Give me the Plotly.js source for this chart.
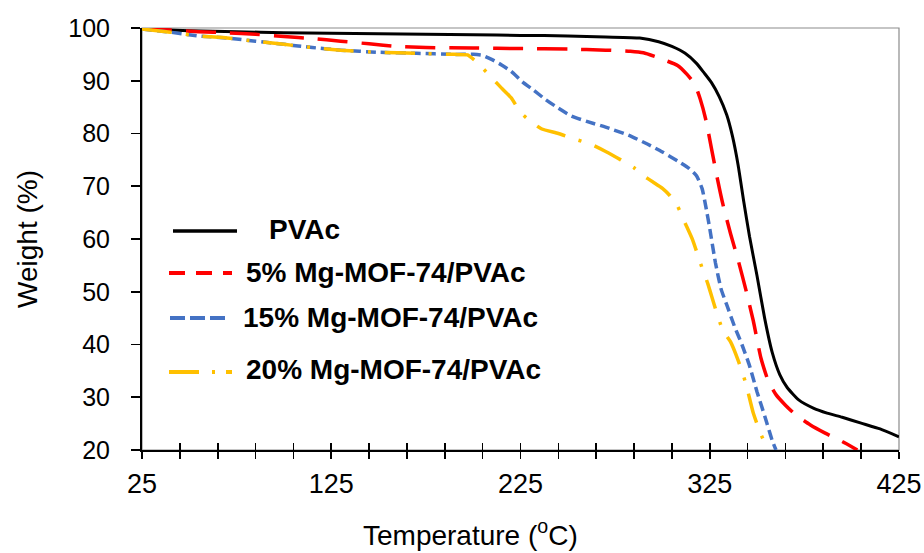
<!DOCTYPE html>
<html>
<head>
<meta charset="utf-8">
<script src="https://cdn.plot.ly/plotly-3.0.1.min.js"></script>
<style>html,body{margin:0;padding:0;background:#fff;}#chart{width:924px;height:553px;}</style>
</head>
<body>
<div id="chart"></div>
<script>
// ---- data ----
var seriesNames = ["PVAc", "5% Mg-MOF-74/PVAc", "15% Mg-MOF-74/PVAc", "20% Mg-MOF-74/PVAc"];

var tempPVAc = [25, 50, 75, 100, 125, 150, 175, 200, 225, 250, 270, 288, 298, 305, 312, 318, 322, 326, 330, 334, 337, 340, 343, 346, 350, 354, 358, 362, 366, 372, 380, 387, 395, 405, 415, 425];
var wtPVAc   = [99.8, 99.5, 99.3, 99.1, 99.0, 98.9, 98.8, 98.7, 98.6, 98.5, 98.3, 98.1, 97.4, 96.5, 95.2, 93.3, 91.5, 89.6, 87.0, 83.5, 79.5, 74.0, 67.0, 60.5, 53.0, 45.0, 38.5, 34.3, 31.8, 29.5, 27.9, 27.0, 26.2, 25.1, 24.0, 22.5];

var temp5 = [25, 40, 55, 70, 85, 100, 115, 130, 145, 160, 175, 200, 225, 250, 270, 283, 290, 296, 302, 308, 313, 317, 320, 323, 326, 329, 332, 336, 340, 344, 348, 352, 356, 360, 365, 370, 378, 386, 395, 403];
var wt5   = [99.9, 99.6, 99.3, 99.1, 98.8, 98.4, 98.0, 97.5, 97.0, 96.5, 96.3, 96.2, 96.1, 96.0, 95.8, 95.6, 95.3, 94.6, 93.8, 92.9, 91.2, 89.4, 86.5, 82.5, 77.0, 71.5, 66.5, 61.0, 56.0, 50.5, 44.5, 37.5, 33.0, 30.5, 28.5, 26.8, 24.8, 23.2, 21.6, 20.0];

var temp15 = [25, 40, 55, 70, 85, 100, 115, 130, 150, 170, 190, 200, 205, 210, 215, 220, 226, 232, 238, 245, 252, 260, 270, 282, 292, 300, 308, 314, 318, 321, 323, 325, 328, 331, 334, 338, 342, 346, 350, 354, 358, 360];
var wt15   = [99.8, 99.2, 98.5, 98.1, 97.5, 96.9, 96.3, 95.8, 95.4, 95.2, 95.0, 95.0, 94.8, 94.0, 93.0, 91.8, 89.8, 88.2, 86.5, 84.8, 83.3, 82.3, 81.2, 79.7, 78.0, 76.5, 74.8, 73.4, 72.0, 69.5, 66.0, 62.0, 55.5, 50.5, 47.5, 43.5, 40.0, 36.0, 31.0, 26.5, 21.8, 20.0];

var temp20 = [25, 40, 55, 70, 85, 100, 115, 130, 150, 170, 190, 197, 201, 205, 210, 215, 220, 225, 230, 236, 245, 253, 262, 270, 278, 285, 290, 295, 300, 304, 308, 312, 316, 320, 324, 328, 332, 336, 340, 344, 348, 352, 356];
var wt20   = [99.8, 99.2, 98.5, 98.1, 97.5, 96.9, 96.3, 95.8, 95.4, 95.2, 95.0, 94.9, 93.8, 92.4, 90.5, 88.6, 86.8, 84.0, 82.4, 80.9, 80.0, 79.0, 78.0, 76.6, 75.0, 73.5, 72.0, 70.8, 69.6, 68.2, 66.2, 63.0, 59.8, 55.5, 51.5, 46.8, 42.6, 40.5, 37.0, 32.7, 27.0, 23.0, 20.0];

var xTickVals = [25, 125, 225, 325, 425];
var yTickVals = [20, 30, 40, 50, 60, 70, 80, 90, 100];

// ---- styles ----
var FONT = "Liberation Sans, Arial, Helvetica, sans-serif";
var styles = [
  {color: "#000000", width: 3,   dash: "solid",                 legDash: "solid"},
  {color: "#FF0000", width: 3.5, dash: "30px,14px",             legDash: "16px,11px"},
  {color: "#4472C4", width: 3.5, dash: "10px,5px",              legDash: "15px,5px"},
  {color: "#FFC000", width: 3.5, dash: "30px,14px,3px,14px",    legDash: "30px,13px,3px,11px"}
];
var xs = [tempPVAc, temp5, temp15, temp20];
var ys = [wtPVAc, wt5, wt15, wt20];

var traces = xs.map(function (x, i) {
  return {
    x: x, y: ys[i], name: seriesNames[i], type: "scatter", mode: "lines",
    line: {color: styles[i].color, width: styles[i].width, dash: styles[i].dash, shape: "spline", smoothing: 0.5},
    showlegend: false, hoverinfo: "x+y+name"
  };
});

// ---- plot geometry ----
var W = 924, H = 553, ML = 142, MR = 25, MT = 28, MB = 103;
var PW = W - ML - MR, PH = H - MT - MB;
function px2paperX(px) { return (px - ML) / PW; }
function py2paperY(py) { return (H - MB - py) / PH; }

// custom legend (line sample + bold label) as drawn in the reference
var legendRows = [
  {lineX0: 173, lineX1: 237, lineY: 231, textX: 267, textY: 229},
  {lineX0: 169, lineX1: 232, lineY: 273, textX: 244, textY: 272},
  {lineX0: 170, lineX1: 230, lineY: 318, textX: 241, textY: 317},
  {lineX0: 169, lineX1: 232, lineY: 372, textX: 244, textY: 369}
];

var shapes = [{
  type: "rect", xref: "paper", yref: "paper", x0: 0, x1: 1, y0: 0, y1: 1,
  line: {color: "#8c8c8c", width: 1.2}, layer: "below"
}];
var annotations = [];
legendRows.forEach(function (r, i) {
  shapes.push({
    type: "line", xref: "paper", yref: "paper",
    x0: px2paperX(r.lineX0), x1: px2paperX(r.lineX1),
    y0: py2paperY(r.lineY), y1: py2paperY(r.lineY),
    line: {color: styles[i].color, width: i === 0 ? 3.5 : 4, dash: styles[i].legDash}
  });
  annotations.push({
    xref: "paper", yref: "paper", x: px2paperX(r.textX), y: py2paperY(r.textY),
    xanchor: "left", yanchor: "middle", showarrow: false,
    text: "<b>" + seriesNames[i] + "</b>",
    font: {family: FONT, size: 28, color: "#000"}
  });
});
// x-axis title (sits left of the plot centre in the reference)
annotations.push({
  xref: "paper", yref: "paper", x: px2paperX(470), y: py2paperY(533),
  xanchor: "center", yanchor: "middle", showarrow: false,
  text: "Temperature (<sup>o</sup>C)",
  font: {family: FONT, size: 28, color: "#000"}
});

var layout = {
  width: W, height: H,
  margin: {l: ML, r: MR, t: MT, b: MB, pad: 0},
  paper_bgcolor: "#fff", plot_bgcolor: "#fff",
  font: {family: FONT, color: "#000"},
  showlegend: false,
  xaxis: {
    range: [25, 425], tickvals: xTickVals, ticktext: xTickVals.map(String),
    ticks: "outside", ticklen: 7, tickwidth: 1.6, tickcolor: "#000",
    minor: {dtick: 20, tick0: 25, ticks: "outside", ticklen: 7, tickwidth: 1.6, tickcolor: "#000", showgrid: false},
    showline: true, linecolor: "#000", linewidth: 2,
    showgrid: false, zeroline: false, fixedrange: true,
    tickfont: {family: FONT, size: 27, color: "#000"},
    ticklabelstandoff: 2
  },
  xaxis2: {
    overlaying: "x", anchor: "y", side: "bottom", matches: "x",
    range: [25, 425], tick0: 25, dtick: 20,
    ticks: "inside", ticklen: 7, tickwidth: 1.6, tickcolor: "#000",
    showticklabels: false, showline: false, showgrid: false, zeroline: false
  },
  yaxis: {
    range: [20, 100], tickvals: yTickVals,
    ticks: "outside", ticklen: 9, tickwidth: 1.6, tickcolor: "#000",
    showline: true, linecolor: "#000", linewidth: 2,
    showgrid: false, zeroline: false, fixedrange: true,
    tickfont: {family: FONT, size: 25, color: "#000"},
    ticklabelstandoff: 16,
    title: {text: "Weight (%)", font: {family: FONT, size: 28, color: "#000"}, standoff: 22}
  },
  shapes: shapes,
  annotations: annotations
};

// an invisible helper trace so the overlay axis (crossing tick marks) is drawn
traces.unshift({x: [25, 425], y: [20, 20], xaxis: "x2", yaxis: "y", mode: "lines",
  line: {width: 0, color: "rgba(0,0,0,0)"}, hoverinfo: "skip", showlegend: false});

Plotly.newPlot("chart", traces, layout, {staticPlot: true, displayModeBar: false});
</script>
</body>
</html>
